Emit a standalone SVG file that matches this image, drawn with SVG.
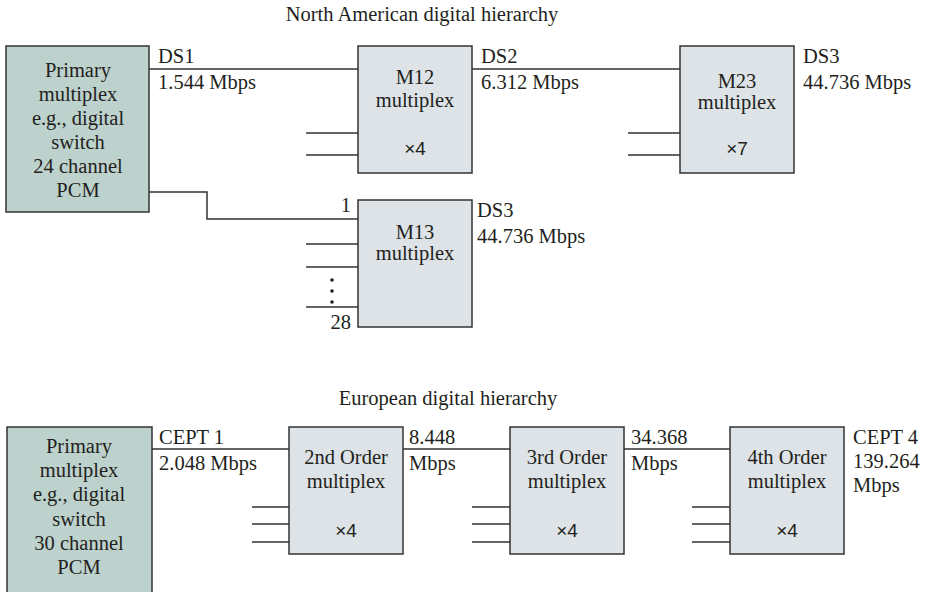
<svg xmlns="http://www.w3.org/2000/svg" width="926" height="592" viewBox="0 0 926 592">
<style>
text{font-family:"Liberation Serif","Times New Roman",serif;font-size:20.5px;fill:#231f20}
.c{text-anchor:middle}
.r{text-anchor:end}
.x{font-family:"Liberation Sans",Arial,sans-serif;font-size:19px}
.prim{fill:#bdd1cd;stroke:#333;stroke-width:1.5}
.mux{fill:#dde3e6;stroke:#333;stroke-width:1.5}
.ln{fill:none;stroke:#333;stroke-width:1.5}
</style>
<rect width="926" height="592" fill="#fff"/>
<text class="c" x="422" y="21">North American digital hierarchy</text>
<text class="c" x="448" y="405">European digital hierarchy</text>

<g id="connectors" class="ln">
<path d="M149,69H358"/>
<path d="M472,69H680"/>
<path d="M149,192H207V219H358"/>
<path d="M306,133H358M306,155H358"/>
<path d="M628,133H680M628,155H680"/>
<path d="M306,244H358M306,267H358M306,307H358"/>
<path d="M152,449H289M403,449H510M624,449H730"/>
<path d="M252,507H289M252,524H289M252,542H289"/>
<path d="M472,507H510M472,524H510M472,542H510"/>
<path d="M692,507H730M692,524H730M692,542H730"/>
</g>
<g id="dots" fill="#231f20">
<circle cx="332" cy="280" r="1.8"/><circle cx="332" cy="291" r="1.8"/><circle cx="332" cy="302" r="1.8"/>
</g>

<g id="na-primary">
<rect class="prim" x="6" y="46" width="143" height="166"/>
<text class="c" x="78" y="77">Primary</text>
<text class="c" x="78" y="101">multiplex</text>
<text class="c" x="78" y="125">e.g., digital</text>
<text class="c" x="78" y="149">switch</text>
<text class="c" x="78" y="173">24 channel</text>
<text class="c" x="78" y="197">PCM</text>
</g>
<g id="ds1-label">
<text x="158" y="63">DS1</text>
<text x="158" y="89">1.544 Mbps</text>
</g>
<g id="m12">
<rect class="mux" x="358" y="46" width="114" height="127"/>
<text class="c" x="415" y="84">M12</text>
<text class="c" x="415" y="107">multiplex</text>
<text class="c x" x="415" y="155">×4</text>
</g>
<g id="ds2-label">
<text x="481" y="63">DS2</text>
<text x="481" y="89">6.312 Mbps</text>
</g>
<g id="m23">
<rect class="mux" x="680" y="46" width="114" height="127"/>
<text class="c" x="737" y="88">M23</text>
<text class="c" x="737" y="109">multiplex</text>
<text class="c x" x="737" y="155">×7</text>
</g>
<g id="ds3-label-a">
<text x="803" y="63">DS3</text>
<text x="803" y="89">44.736 Mbps</text>
</g>
<g id="m13">
<rect class="mux" x="358" y="200" width="114" height="127"/>
<text class="c" x="415" y="239">M13</text>
<text class="c" x="415" y="260">multiplex</text>
<text class="r" x="351" y="212">1</text>
<text class="r" x="351" y="329">28</text>
</g>
<g id="ds3-label-b">
<text x="477" y="217">DS3</text>
<text x="477" y="243">44.736 Mbps</text>
</g>

<g id="eu-primary">
<rect class="prim" x="7" y="427" width="145" height="180"/>
<text class="c" x="79" y="453">Primary</text>
<text class="c" x="79" y="477">multiplex</text>
<text class="c" x="79" y="501">e.g., digital</text>
<text class="c" x="79" y="526">switch</text>
<text class="c" x="79" y="550">30 channel</text>
<text class="c" x="79" y="574">PCM</text>
</g>
<g id="cept1-label">
<text x="159" y="444">CEPT 1</text>
<text x="159" y="470">2.048 Mbps</text>
</g>
<g id="order2">
<rect class="mux" x="289" y="427" width="114" height="127"/>
<text class="c" x="346" y="464">2nd Order</text>
<text class="c" x="346" y="488">multiplex</text>
<text class="c x" x="346" y="537">×4</text>
</g>
<g id="rate2-label">
<text x="409" y="444">8.448</text>
<text x="409" y="470">Mbps</text>
</g>
<g id="order3">
<rect class="mux" x="510" y="427" width="114" height="127"/>
<text class="c" x="567" y="464">3rd Order</text>
<text class="c" x="567" y="488">multiplex</text>
<text class="c x" x="567" y="537">×4</text>
</g>
<g id="rate3-label">
<text x="631" y="444">34.368</text>
<text x="631" y="470">Mbps</text>
</g>
<g id="order4">
<rect class="mux" x="730" y="427" width="114" height="127"/>
<text class="c" x="787" y="464">4th Order</text>
<text class="c" x="787" y="488">multiplex</text>
<text class="c x" x="787" y="537">×4</text>
</g>
<g id="cept4-label">
<text x="853" y="444">CEPT 4</text>
<text x="853" y="468">139.264</text>
<text x="853" y="492">Mbps</text>
</g>
</svg>
